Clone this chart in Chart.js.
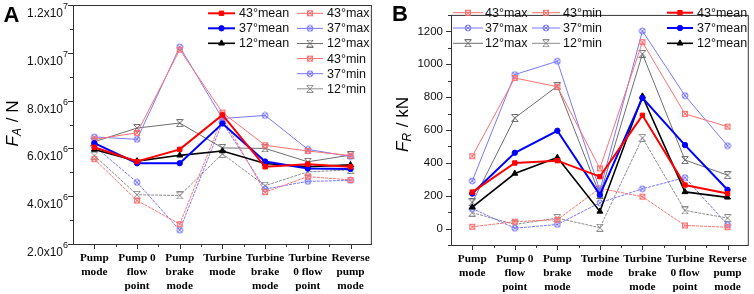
<!DOCTYPE html>
<html>
<head>
<meta charset="utf-8">
<script src="https://cdn.jsdelivr.net/npm/chart.js@4.4.1/dist/chart.umd.min.js"></script>
<style>
html, body { margin: 0; padding: 0; background: #fff; }
#wrap { position: relative; width: 754px; height: 294px; }
.panel { position: absolute; top: 0; width: 377px; height: 294px; }
</style>
</head>
<body>
<div id="wrap">
  <div class="panel" style="left:0"><canvas id="chartA" width="377" height="294"></canvas></div>
  <div class="panel" style="left:377px"><canvas id="chartB" width="377" height="294"></canvas></div>
</div>
<script>
const categories = [
  ['Pump', 'mode'], ['Pump 0', 'flow', 'point'], ['Pump', 'brake', 'mode'], ['Turbine', 'mode'],
  ['Turbine', 'brake', 'mode'], ['Turbine', '0 flow', 'point'], ['Reverse', 'pump', 'mode']
]

// panel A : axial force F_A (N)
const a43mean = [6.05e6, 5.45e6, 5.96e6, 7.40e6, 5.23e6, 5.34e6, 5.23e6]
const a37mean = [6.22e6, 5.38e6, 5.38e6, 7.04e6, 5.45e6, 5.16e6, 5.14e6]
const a12mean = [5.95e6, 5.47e6, 5.71e6, 5.89e6, 5.37e6, 5.23e6, 5.31e6]
const a43max  = [6.38e6, 6.65e6, 10.13e6, 7.50e6, 6.13e6, 5.89e6, 5.70e6]
const a37max  = [6.48e6, 6.38e6, 10.25e6, 7.25e6, 7.38e6, 5.96e6, 5.66e6]
const a12max  = [6.28e6, 6.85e6, 7.06e6, 6.02e6, 6.00e6, 5.44e6, 5.72e6]
const a43min  = [5.55e6, 3.82e6, 2.83e6, 7.30e6, 4.17e6, 4.82e6, 4.68e6]
const a37min  = [6.10e6, 4.58e6, 2.58e6, 7.10e6, 4.30e6, 4.62e6, 4.66e6]
const a12min  = [5.70e6, 4.06e6, 4.03e6, 5.77e6, 4.44e6, 5.02e6, 5.10e6]

// panel B : radial force F_R (kN)
const b43mean = [222, 399, 413, 316, 689, 265, 213]
const b37mean = [213, 461, 595, 205, 795, 508, 236]
const b12mean = [130, 335, 432, 104, 805, 223, 190]
const b43max  = [440, 916, 863, 366, 1134, 698, 620]
const b37max  = [290, 937, 1018, 232, 1202, 809, 504]
const b12max  = [159, 673, 867, 205, 1063, 417, 325]
const b43min  = [11, 42, 54, 245, 194, 19, 8]
const b37min  = [122, 2, 25, 157, 242, 310, 23]
const b12min  = [97, 25, 64, 5, 552, 110, 64]

const yTicksA = [2e6, 4e6, 6e6, 8e6, 1e7, 1.2e7]
const yTicksB = [0, 200, 400, 600, 800, 1000, 1200]

const SANS = '"Liberation Sans", Arial, sans-serif'
const SERIF = '"Liberation Serif", "Times New Roman", serif'

const RED = '#ff0000', BLUE = '#0000ff', BLACK = '#000000'
const RED_L = '#ff7070', BLUE_L = '#7878ff', GRAY = '#6e6e6e', GRAY_L = '#8c8c8c'

// little marker images for the max / min series
function mark(color, draw) {
  const c = document.createElement('canvas')
  c.width = 8; c.height = 8
  const g = c.getContext('2d')
  g.strokeStyle = color
  g.lineWidth = 1
  draw(g)
  return c
}
const boxX = color => mark(color, g => {
  g.strokeRect(1.5, 1.5, 5, 5)
  g.beginPath(); g.moveTo(1.5, 1.5); g.lineTo(6.5, 6.5); g.moveTo(6.5, 1.5); g.lineTo(1.5, 6.5); g.stroke()
})
const ringX = color => mark(color, g => {
  g.beginPath(); g.arc(4, 4, 3, 0, Math.PI * 2); g.stroke()
  g.beginPath(); g.moveTo(2, 2); g.lineTo(6, 6); g.moveTo(6, 2); g.lineTo(2, 6); g.stroke()
})
const hourX = color => mark(color, g => {
  g.beginPath()
  g.moveTo(0.5, 0.5); g.lineTo(7.5, 7.5); g.moveTo(7.5, 0.5); g.lineTo(0.5, 7.5)
  g.moveTo(1, 0.5); g.lineTo(7, 0.5); g.moveTo(1, 7.5); g.lineTo(7, 7.5)
  g.stroke()
})

function serie(label, data, color, width, pointStyle, radius, dash) {
  return {
    label, data,
    borderColor: color, backgroundColor: color, borderWidth: width, borderDash: dash || [],
    pointStyle, pointRadius: radius, pointHoverRadius: radius, pointBorderWidth: 1,
    pointBackgroundColor: color, pointBorderColor: color, tension: 0, fill: false
  }
}

// index 0 is drawn last (on top), so the means go first
function buildSets(m43, m37, m12, x43, x37, x12, n43, n37, n12) {
  return [
    serie('43°mean', m43, RED, 2, 'rect', 3.1),
    serie('37°mean', m37, BLUE, 2, 'circle', 2.7),
    serie('12°mean', m12, BLACK, 1.6, 'triangle', 3.4),
    serie('43°max', x43, RED_L, 1, boxX(RED_L), 4),
    serie('37°max', x37, BLUE_L, 1, ringX(BLUE_L), 4),
    serie('12°max', x12, GRAY, 1, hourX(GRAY), 4),
    serie('43°min', n43, RED_L, 1, boxX(RED_L), 4, [3, 1]),
    serie('37°min', n37, BLUE_L, 1, ringX(BLUE_L), 4, [3, 1]),
    serie('12°min', n12, GRAY_L, 1, hourX(GRAY_L), 4, [3, 1])
  ]
}

// frame, tick marks, axis title, panel letter
const frame = {
  id: 'frame',
  afterDraw(chart, args, o) {
    const { ctx, chartArea: a, scales } = chart
    const x = scales.x, y = scales.y
    ctx.save()
    ctx.strokeStyle = '#333'
    ctx.lineWidth = 1
    ctx.strokeRect(a.left + 0.5, a.top + 0.5, a.right - a.left - 1, a.bottom - a.top)

    ctx.beginPath()
    const step = o.yTicks[1] - o.yTicks[0]
    for (let v = y.min; v <= y.max + step * 0.01; v += step / 2) {
      const p = Math.round(y.getPixelForValue(v)) + 0.5
      const major = o.yTicks.some(t => Math.abs(t - v) < step * 0.01)
      ctx.moveTo(a.left, p); ctx.lineTo(a.left - (major ? 5 : 3), p)
    }
    const n = chart.data.labels.length
    for (let i = 0; i < n; i++) {
      const p = Math.round(x.getPixelForTick(i)) + 0.5
      ctx.moveTo(p, a.bottom); ctx.lineTo(p, a.bottom + 5)
      if (i < n - 1) {
        const q = Math.round((x.getPixelForTick(i) + x.getPixelForTick(i + 1)) / 2) + 0.5
        ctx.moveTo(q, a.bottom); ctx.lineTo(q, a.bottom + 3)
      }
    }
    ctx.stroke()

    ctx.fillStyle = '#111'
    if (o.sci) {
      ctx.textAlign = 'right'
      ctx.textBaseline = 'alphabetic'
      o.yTicks.forEach(v => {
        const e = Math.floor(Math.log10(v) + 1e-9)
        const m = (v / Math.pow(10, e)).toFixed(1)
        const p = y.getPixelForValue(v)
        ctx.font = '9px ' + SANS
        const ws = ctx.measureText(String(e)).width
        ctx.fillText(String(e), a.left - 5, p + 4)
        ctx.font = '12px ' + SANS
        ctx.fillText(m + 'x10', a.left - 5 - ws, p + 12)
      })
    }

    const t = o.title
    ctx.translate(t.x, t.y)
    ctx.rotate(-Math.PI / 2)
    ctx.textAlign = 'left'
    ctx.textBaseline = 'alphabetic'
    ctx.fillStyle = '#000'
    ctx.font = 'italic 17px ' + SANS
    const w1 = ctx.measureText('F').width
    ctx.font = 'italic 12px ' + SANS
    const w2 = ctx.measureText(t.sub).width
    ctx.font = '17px ' + SANS
    const w3 = ctx.measureText(t.unit).width
    let px = -(w1 + w2 + w3) / 2
    ctx.font = 'italic 17px ' + SANS; ctx.fillText('F', px, 6); px += w1
    ctx.font = 'italic 12px ' + SANS; ctx.fillText(t.sub, px, 9); px += w2 + 1
    ctx.font = '17px ' + SANS; ctx.fillText(t.unit, px, 6)
    ctx.setTransform(1, 0, 0, 1, 0, 0)

    ctx.font = 'bold 22px ' + SANS
    ctx.fillText(o.letter.text, o.letter.x, o.letter.y)
    ctx.restore()
  }
}

// legend drawn inside the plot, in columns
const keyBox = {
  id: 'keyBox',
  afterDraw(chart, args, o) {
    const ctx = chart.ctx
    ctx.save()
    ctx.textBaseline = 'middle'
    ctx.textAlign = 'left'
    o.columns.forEach(col => {
      col.items.forEach((idx, r) => {
        const d = chart.data.datasets[idx]
        const yy = col.y0 + r * col.dy
        ctx.strokeStyle = d.borderColor
        ctx.lineWidth = d.borderWidth
        ctx.setLineDash([])
        ctx.beginPath(); ctx.moveTo(col.x0, yy); ctx.lineTo(col.x1, yy); ctx.stroke()
        ctx.fillStyle = d.pointBackgroundColor
        ctx.strokeStyle = d.pointBorderColor
        ctx.lineWidth = 1
        Chart.helpers.drawPoint(ctx, { pointStyle: d.pointStyle, radius: d.pointRadius, rotation: 0, borderWidth: 1 }, (col.x0 + col.x1) / 2, yy)
        ctx.fillStyle = '#111'
        ctx.font = '12.5px ' + SANS
        ctx.fillText(d.label, col.tx, yy + 0.5)
      })
    })
    ctx.restore()
  }
}

function xAxis(h) {
  return {
    type: 'category', offset: true,
    grid: { display: false, drawTicks: false, tickLength: 0 },
    border: { display: false },
    ticks: { color: '#000', padding: 7, maxRotation: 0, autoSkip: false, font: { family: SERIF, weight: 'bold', size: 11.3, lineHeight: 1.24 } },
    afterFit: s => { s.height = h }
  }
}

new Chart(document.getElementById('chartA'), {
  type: 'line',
  data: { labels: categories, datasets: buildSets(a43mean, a37mean, a12mean, a43max, a37max, a12max, a43min, a37min, a12min) },
  options: {
    responsive: false, animation: false, devicePixelRatio: 1,
    layout: { padding: { top: 2, right: 4, left: 0, bottom: 0 } },
    scales: {
      x: xAxis(50),
      y: {
        min: 2e6, max: 1.2e7,
        afterBuildTicks: s => { s.ticks = yTicksA.map(v => ({ value: v })) },
        grid: { display: false, drawTicks: false, tickLength: 0 },
        border: { display: false },
        ticks: { display: false },
        afterFit: s => { s.width = 73 }
      }
    },
    plugins: {
      legend: { display: false }, tooltip: { enabled: false },
      frame: { yTicks: yTicksA, sci: true, title: { x: 12, y: 124, sub: 'A', unit: ' / N' }, letter: { text: 'A', x: 3.5, y: 21.5 } },
      keyBox: {
        columns: [
          { x0: 208, x1: 235, tx: 239, y0: 13.3, dy: 15, items: [0, 1, 2] },
          { x0: 297, x1: 323, tx: 327, y0: 13.3, dy: 15.1, items: [3, 4, 5, 6, 7, 8] }
        ]
      }
    }
  },
  plugins: [frame, keyBox]
})

new Chart(document.getElementById('chartB'), {
  type: 'line',
  data: { labels: categories, datasets: buildSets(b43mean, b37mean, b12mean, b43max, b37max, b12max, b43min, b37min, b12min) },
  options: {
    responsive: false, animation: false, devicePixelRatio: 1,
    layout: { padding: { top: 3, right: 2, left: 0, bottom: 0 } },
    scales: {
      x: xAxis(49),
      y: {
        min: -100, max: 1300,
        afterBuildTicks: s => { s.ticks = yTicksB.map(v => ({ value: v })) },
        grid: { display: false, drawTicks: false, tickLength: 0 },
        border: { display: false },
        ticks: { color: '#111', padding: 8, font: { family: SANS, size: 11.5 }, callback: v => String(v) },
        afterFit: s => { s.width = 74 }
      }
    },
    plugins: {
      legend: { display: false }, tooltip: { enabled: false },
      frame: { yTicks: yTicksB, sci: false, title: { x: 25, y: 125, sub: 'R', unit: ' / kN' }, letter: { text: 'B', x: 15, y: 20.5 } },
      keyBox: {
        columns: [
          { x0: 76, x1: 106, tx: 108, y0: 12.7, dy: 15.3, items: [3, 4, 5] },
          { x0: 155, x1: 183, tx: 186, y0: 12.7, dy: 15.3, items: [6, 7, 8] },
          { x0: 290, x1: 316, tx: 320, y0: 12.7, dy: 15.3, items: [0, 1, 2] }
        ]
      }
    }
  },
  plugins: [frame, keyBox]
})
</script>
</body>
</html>
